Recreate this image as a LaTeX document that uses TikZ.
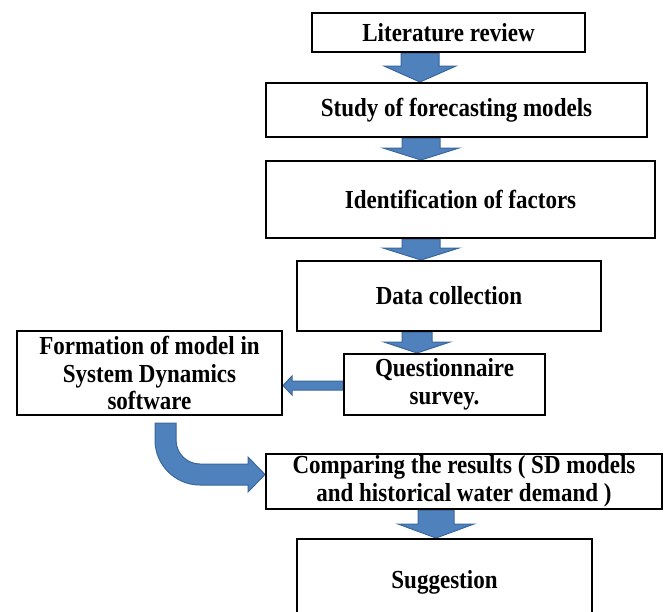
\documentclass[tikz,border=0pt]{standalone}
\usepackage{fontspec}
\setmainfont[FakeStretch=0.885]{Liberation Serif}
\usetikzlibrary{calc}
\definecolor{arrowfill}{HTML}{4F81BD}
\definecolor{arrowline}{HTML}{3A679B}
\pgfdeclarelayer{background}
\pgfsetlayers{background,main}
\begin{document}
\begin{tikzpicture}[x=1pt,y=1pt,
  box/.style={draw=black, line width=2pt, fill=white, inner sep=0pt, align=center,
    font=\fontsize{26}{27.8}\selectfont\bfseries},
  blk/.style={fill=arrowfill, draw=arrowline, line width=1pt, line join=miter}]
\useasboundingbox (0,0) rectangle (668,-611);

\node[box, minimum width=273pt, minimum height=39pt] (lit) at (448.5,-32.5) {Literature review};
\node[box, minimum width=381pt, minimum height=54pt] (study) at (456.5,-110) {Study of forecasting models};
\node[box, minimum width=389pt, minimum height=77pt] (ident) at (460.5,-199.5) {Identification of factors};
\node[box, minimum width=304pt, minimum height=70pt] (data) at (449,-296) {Data collection};
\node[box, minimum width=201pt, minimum height=61pt] (quest) at (444.5,-384.5) {Questionnaire\\survey.};
\node[box, minimum width=265pt, minimum height=84pt] (form) at (149.5,-373) {Formation of model in\\System Dynamics\\software};
\node[box, minimum width=396pt, minimum height=55pt] (comp) at (464,-481.5) {Comparing the results ( SD models\\and historical water demand )};
\node[box, minimum width=295pt, minimum height=86pt] (sugg) at (444.5,-582) {Suggestion};

\begin{pgfonlayer}{background}
% lit -> study
\filldraw[blk] (401,0 |- lit.south) -- (439,0 |- lit.south) -- (439,-66) -- (456,-66)
  -- (420,0 |- study.north) -- (384,-66) -- (401,-66) -- cycle;
% study -> ident
\filldraw[blk] (402,0 |- study.south) -- (440,0 |- study.south) -- (440,-148) -- (459,-148)
  -- (421,0 |- ident.north) -- (383,-148) -- (402,-148) -- cycle;
% ident -> data
\filldraw[blk] (402,0 |- ident.south) -- (440,0 |- ident.south) -- (440,-248) -- (459,-248)
  -- (421,0 |- data.north) -- (383,-248) -- (402,-248) -- cycle;
% data -> quest
\filldraw[blk] (402,0 |- data.south) -- (432,0 |- data.south) -- (432,-342) -- (450,-342)
  -- (417,0 |- quest.north) -- (384,-342) -- (402,-342) -- cycle;
% comp -> sugg
\filldraw[blk] (418,0 |- comp.south) -- (454,0 |- comp.south) -- (454,-524) -- (474,-524)
  -- (436,0 |- sugg.north) -- (398,-524) -- (418,-524) -- cycle;
% quest -> form
\filldraw[blk] (quest.west |- 0,-381) -- (292,-381) -- (292,-376)
  -- (form.east |- 0,-385.5) -- (292,-395) -- (292,-390) -- (quest.west |- 0,-390) -- cycle;
% form -> comp (bent arrow)
\filldraw[blk] (155,-423) -- (176,-423) -- (176,-440)
  .. controls (176,-453.3) and (186.7,-464) .. (200,-464) -- (248,-464) -- (248,-457)
  -- (comp.west |- 0,-474.5) -- (248,-492) -- (248,-485) -- (200,-485)
  .. controls (175.1,-485) and (155,-464.9) .. (155,-440) -- cycle;
\end{pgfonlayer}
\end{tikzpicture}
\end{document}
